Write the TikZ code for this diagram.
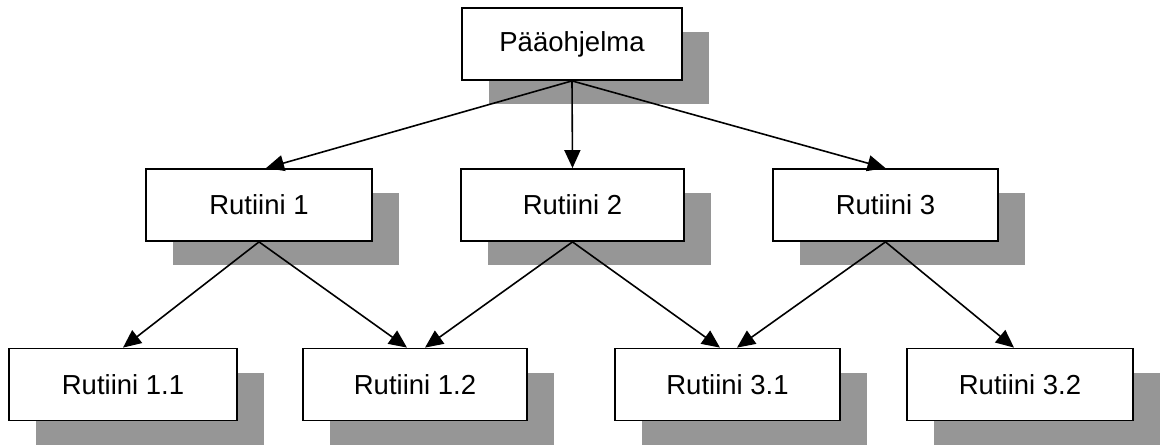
\documentclass[tikz,border=0pt]{standalone}
\usepackage{fontspec}
\setmainfont{Liberation Sans}
\usetikzlibrary{arrows.meta,shadows}
\definecolor{shadowgray}{RGB}{150,150,150}
\begin{document}
\begin{tikzpicture}[x=1pt,y=-1pt,
  box/.style={draw=black, line width=1.8pt, fill=white, rectangle,
    minimum height=72pt, inner sep=0pt,
    font=\fontsize{27.5}{32}\selectfont,
    drop shadow={shadow xshift=27pt, shadow yshift=-24pt, fill=shadowgray, opacity=1}},
  link/.style={line width=1.6pt, -{Triangle[length=18pt,width=16pt]}}]
\useasboundingbox (0,0) rectangle (1164,445);

% top level
\node[box, minimum width=220pt] (main) at (572,44) {Pääohjelma};

% second level
\node[box, minimum width=226pt] (r1) at (259,205) {Rutiini 1};
\node[box, minimum width=223pt] (r2) at (572.5,205) {Rutiini 2};
\node[box, minimum width=225pt] (r3) at (885.5,205) {Rutiini 3};

% third level
\node[box, minimum width=228pt] (r11) at (123,384.5) {Rutiini 1.1};
\node[box, minimum width=224pt] (r12) at (415,384.5) {Rutiini 1.2};
\node[box, minimum width=225pt] (r31) at (727.5,384.5) {Rutiini 3.1};
\node[box, minimum width=226pt] (r32) at (1020,384.5) {Rutiini 3.2};

% calls
\draw[link] (main.south) -- ([xshift=7pt]r1.north);
\draw[link] (main.south) -- (r2.north);
\draw[link] (main.south) -- (r3.north);

\draw[link] (r1.south) -- (r11.north);
\draw[link] (r1.south) -- ([xshift=-8pt]r12.north);
\draw[link] (r2.south) -- ([xshift=10pt]r12.north);
\draw[link] (r2.south) -- ([xshift=-7.5pt]r31.north);
\draw[link] (r3.south) -- ([xshift=9.5pt]r31.north);
\draw[link] (r3.south) -- ([xshift=-6pt]r32.north);
\end{tikzpicture}
\end{document}
